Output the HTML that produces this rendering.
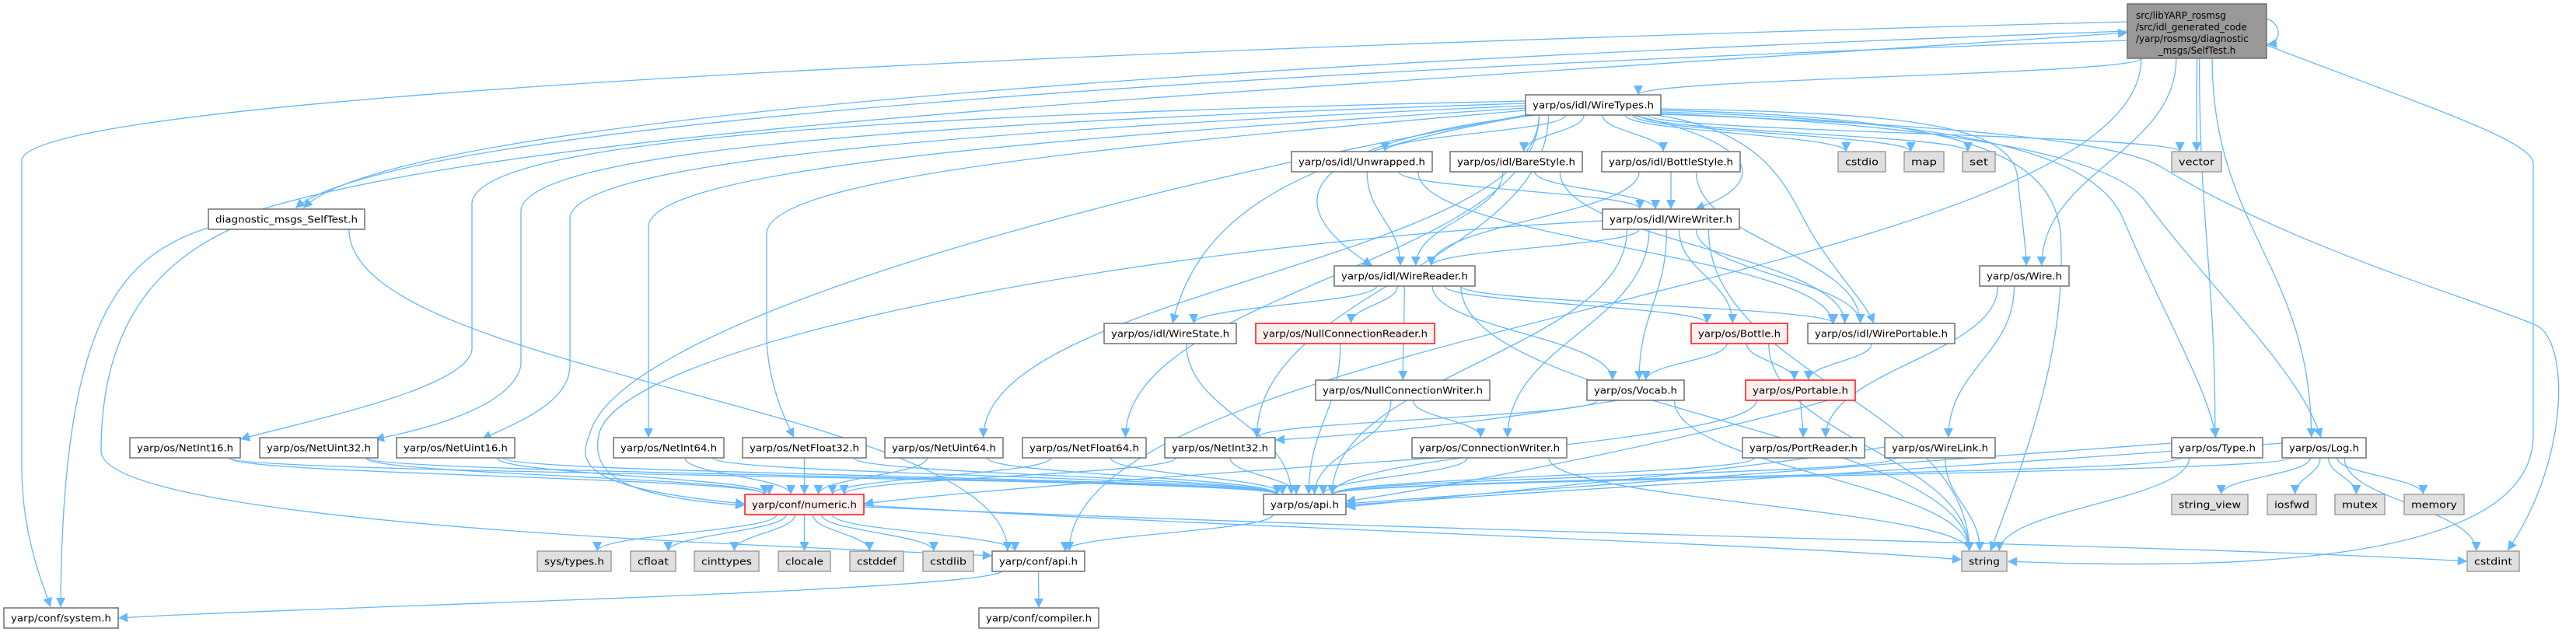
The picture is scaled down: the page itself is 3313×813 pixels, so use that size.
<!DOCTYPE html>
<html><head><meta charset="utf-8">
<style>
html,body{margin:0;padding:0;background:#fff;}
svg{display:block;}
text{font-family:"DejaVu Sans","Liberation Sans",sans-serif;font-size:12px;fill:#000;}
</style></head>
<body>
<svg id="g" xmlns="http://www.w3.org/2000/svg" width="3313" height="813" viewBox="0 0 3313 813">
<defs>
<marker id="ah" viewBox="0 0 10 10" refX="10" refY="5" markerWidth="14" markerHeight="12" markerUnits="userSpaceOnUse" orient="auto">
<path d="M0,0 L10,5 L0,10 z" fill="#63b8ff"/>
</marker>
</defs>
<g id="edges" fill="none" stroke="#63b8ff" stroke-width="1.3"></g>
<g id="nodes"></g>
</svg>
<script>
var N={
M:[2736,5,179,70,'m',''],
D:[268,269,201,26,'w','diagnostic_msgs_SelfTest.h'],
WT:[1962,122,174,26,'w','yarp/os/idl/WireTypes.h'],
UW:[1661,195,181,26,'w','yarp/os/idl/Unwrapped.h'],
BS:[1865,195,170,26,'w','yarp/os/idl/BareStyle.h'],
BTS:[2060,195,178,26,'w','yarp/os/idl/BottleStyle.h'],
WW:[2061,269,176,26,'w','yarp/os/idl/WireWriter.h'],
WR:[1716,342,181,26,'w','yarp/os/idl/WireReader.h'],
CSTDIO:[2364,195,61,26,'g','cstdio'],
MAP:[2449,195,51,26,'g','map'],
SET:[2524,195,42,26,'g','set'],
VEC:[2793,195,64,26,'g','vector'],
WIRE:[2546,342,115,26,'w','yarp/os/Wire.h'],
NI16:[167,563,142,26,'w','yarp/os/NetInt16.h'],
NU32:[334,563,152,26,'w','yarp/os/NetUint32.h'],
NU16:[510,563,152,26,'w','yarp/os/NetUint16.h'],
NI64:[789,563,142,26,'w','yarp/os/NetInt64.h'],
NF32:[955,563,159,26,'w','yarp/os/NetFloat32.h'],
NUM:[958,636,153,26,'r','yarp/conf/numeric.h'],
SYS:[691,709,95,26,'g','sys/types.h'],
CFL:[811,709,58,26,'g','cfloat'],
CINT:[893,709,83,26,'g','cinttypes'],
CLOC:[1001,709,67,26,'g','clocale'],
CDEF:[1093,709,69,26,'g','cstddef'],
SYSTEM:[5,782,147,26,'w','yarp/conf/system.h'],
CSTDLIB:[1187,709,65,26,'g','cstdlib'],
CAPI:[1276,709,119,26,'w','yarp/conf/api.h'],
COMP:[1259,782,154,26,'w','yarp/conf/compiler.h'],
OAPI:[1625,636,106,26,'w','yarp/os/api.h'],
NU64:[1138,563,152,26,'w','yarp/os/NetUint64.h'],
NF64:[1315,563,159,26,'w','yarp/os/NetFloat64.h'],
NI32:[1498,563,142,26,'w','yarp/os/NetInt32.h'],
CW:[1816,563,199,26,'w','yarp/os/ConnectionWriter.h'],
NCW:[1692,489,224,26,'w','yarp/os/NullConnectionWriter.h'],
VOC:[2041,489,125,26,'w','yarp/os/Vocab.h'],
WS:[1420,416,170,26,'w','yarp/os/idl/WireState.h'],
NCR:[1615,416,230,26,'r','yarp/os/NullConnectionReader.h'],
BOT:[2175,416,124,26,'r','yarp/os/Bottle.h'],
WP:[2325,416,189,26,'w','yarp/os/idl/WirePortable.h'],
POR:[2245,489,141,26,'r','yarp/os/Portable.h'],
PR:[2241,563,157,26,'w','yarp/os/PortReader.h'],
WL:[2424,563,142,26,'w','yarp/os/WireLink.h'],
TYPE:[2793,563,117,26,'w','yarp/os/Type.h'],
LOG:[2935,563,108,26,'w','yarp/os/Log.h'],
SV:[2793,636,98,26,'g','string_view'],
IOS:[2916,636,63,26,'g','iosfwd'],
MUT:[3003,636,64,26,'g','mutex'],
MEM:[3092,636,77,26,'g','memory'],
STR:[2523,709,58,26,'g','string'],
CDI:[3173,709,67,26,'g','cstdint']
};
var E=[
['M','WT'],['M','VEC'],['M','WIRE'],['M','TYPE'],['M','LOG'],['M','CAPI'],
['WT','UW'],['WT','BS'],['WT','BTS'],
['WT','NU64'],['WT','NF64'],['WT','NI32'],['WT','CSTDIO'],['WT','MAP'],['WT','SET'],['WT','VEC'],
['UW','WR'],['UW','WW'],['UW','WP'],['BS','WR'],['BS','WW'],['BS','WP'],['BTS','WR'],['BTS','WW'],['BTS','WP'],
['WW','WR'],['WW','CW'],['WW','VOC'],['WW','BOT'],['WW','WP'],['WW','STR'],['WW','OAPI'],
['WR','WS'],['WR','NCR'],['WR','NCW'],['WR','VOC'],['WR','BOT'],['WR','WP'],['WR','STR'],
['WS','OAPI'],['NCR','OAPI'],['NCW','OAPI'],['NCW','CW'],['CW','OAPI'],['CW','STR'],
['VOC','NI32'],['VOC','STR'],['BOT','POR'],['BOT','STR'],['BOT','VOC'],['WP','POR'],['POR','PR'],['POR','OAPI'],
['PR','OAPI'],['WL','OAPI'],['WL','STR'],['WIRE','PR'],['WIRE','WL'],['TYPE','OAPI'],['TYPE','STR'],
['LOG','SV'],['LOG','IOS'],['LOG','MUT'],['LOG','MEM'],['LOG','CDI'],['LOG','OAPI'],
['NI16','NUM'],['NI16','OAPI'],['NU32','NUM'],['NU32','OAPI'],['NU16','NUM'],['NU16','OAPI'],['NI64','NUM'],['NI64','OAPI'],
['NF32','NUM'],['NF32','OAPI'],['NU64','NUM'],['NU64','OAPI'],['NF64','NUM'],['NF64','OAPI'],['NI32','NUM'],['NI32','OAPI'],
['NUM','SYS'],['NUM','CFL'],['NUM','CINT'],['NUM','CLOC'],['NUM','CDEF'],['NUM','CSTDLIB'],['NUM','CAPI'],
['OAPI','CAPI'],['CAPI','COMP'],['D','CAPI']
];
var eg=document.getElementById('edges'),ng=document.getElementById('nodes'),S='http://www.w3.org/2000/svg';
function path(d){var p=document.createElementNS(S,'path');p.setAttribute('d',d);p.setAttribute('marker-end','url(#ah)');eg.appendChild(p);}
E.forEach(function(e){
 var a=N[e[0]],b=N[e[1]];
 var acx=a[0]+a[2]/2,bcx=b[0]+b[2]/2;
 var sx=acx+Math.max(-a[2]/2.5,Math.min(a[2]/2.5,(bcx-acx)*0.12));
 var sy=a[1]+a[3];
 var tx=bcx+Math.max(-b[2]/3,Math.min(b[2]/3,(acx-bcx)*0.1));
 var ty=b[1];
 if(b[1]<=a[1]+a[3]&&b[1]>=a[1]-2){
   sy=a[1]+a[3]/2;ty=b[1]+b[3]/2;sx=(bcx>acx)?a[0]+a[2]:a[0];tx=(bcx>acx)?b[0]:b[0]+b[2];
   path('M'+sx+','+sy+' L'+tx+','+ty);return;
 }
 var dy=ty-sy;
 path('M'+sx+','+sy+' C'+sx+','+(sy+dy*0.45)+' '+tx+','+(ty-dy*0.45)+' '+tx+','+ty);
});
// special routes
path('M2736,28 C1500,60 50,120 28,205 L28,600 C28,690 55,750 65,781');
path('M2736,40 C1600,80 500,150 390,268');
path('M337,269 C700,160 1600,120 2736,42');
path('M2736,52 C1600,90 500,160 380,268');
path('M2915,24 C2935,30 2935,55 2916,57');
path('M2915,58 C3100,130 3258,180 3258,210 L3258,560 C3258,720 2900,735 2582,722');
path('M2136,147 C2500,160 2720,180 2780,215 C2950,320 3200,390 3265,420 C3307,450 3300,600 3225,708');
path('M1975,148 C1700,180 1620,250 1765,342');
path('M1970,148 C1660,200 1540,280 1508,416');
path('M2100,148 C2280,190 2265,240 2180,269');
path('M2130,148 C2280,170 2300,250 2330,300 C2360,350 2400,390 2410,416');
path('M2136,140 C2450,145 2590,160 2595,230 C2600,280 2606,320 2606,342');
path('M2136,142 C2500,150 2640,190 2650,300 C2660,450 2600,600 2560,709');
path('M2136,144 C2500,155 2690,190 2730,280 C2780,400 2840,500 2850,563');
path('M2136,146 C2500,160 2720,200 2760,260 C2850,380 2960,480 2985,563');
path('M268,293 C150,330 80,420 78,781');
path('M296,295 C200,340 130,420 130,580 C130,680 1100,705 1276,715');
path('M1111,650 C1600,680 2300,700 2523,720');
path('M1111,652 C2000,690 2800,700 3173,722');
path('M1290,733 C1300,760 400,780 152,795');
path('M1962,130 C1000,150 620,190 607,260 L607,450 C600,500 400,540 309,565');
path('M1962,133 C1100,160 680,200 670,270 L670,470 C660,520 560,550 482,565');
path('M1962,136 C1200,170 740,210 733,280 L733,470 C733,520 660,545 620,565');
path('M1962,139 C1300,180 845,220 834,290 L834,563');
path('M1962,142 C1400,190 990,230 986,300 L986,440 C990,500 1010,540 1021,563');
path('M1962,148 C1400,250 790,420 758,560 C740,600 760,630 958,648');
path('M2061,284 C1400,320 790,450 770,560 C760,610 800,640 958,650');
path('M2015,577 C1700,600 1300,625 1111,648');
path('M2166,500 C1950,540 1750,560 1640,566');
path('M2386,505 C2200,560 1900,620 1731,645');
path('M2935,570 C2400,610 2000,630 1731,650');
path('M2793,570 C2400,600 2000,625 1731,648');
path('M2424,575 C2200,610 1900,635 1731,652');
for(var k in N){var n=N[k];
 var r=document.createElementNS(S,'rect');
 r.setAttribute('x',n[0]);r.setAttribute('y',n[1]);r.setAttribute('width',n[2]);r.setAttribute('height',n[3]);
 var fill='#fff',st='#666';
 if(n[4]=='g'){fill='#e0e0e0';st='#999';}
 if(n[4]=='r'){fill='#fff0f0';st='#ff0000';}
 if(n[4]=='m'){fill='#999';st='#666';}
 r.setAttribute('fill',fill);r.setAttribute('stroke',st);r.setAttribute('stroke-width','1.4');ng.appendChild(r);
 if(n[4]=='m'){
  var L=['src/libYARP_rosmsg','/src/idl_generated_code','/yarp/rosmsg/diagnostic','_msgs/SelfTest.h'];
  L.forEach(function(s,i){var t=document.createElementNS(S,'text');
   t.setAttribute('x',i==3?n[0]+n[2]/2:n[0]+11);t.setAttribute('y',n[1]+19+i*15);
   if(i==3)t.setAttribute('text-anchor','middle');t.textContent=s;ng.appendChild(t);});
 } else {
  var t=document.createElementNS(S,'text');
  t.setAttribute('x',n[0]+n[2]/2);t.setAttribute('y',n[1]+17.5);t.setAttribute('text-anchor','middle');
  t.setAttribute('textLength',n[2]-18);t.setAttribute('lengthAdjust','spacingAndGlyphs');
  t.textContent=n[5];ng.appendChild(t);
 }
}
</script>
</body></html>
